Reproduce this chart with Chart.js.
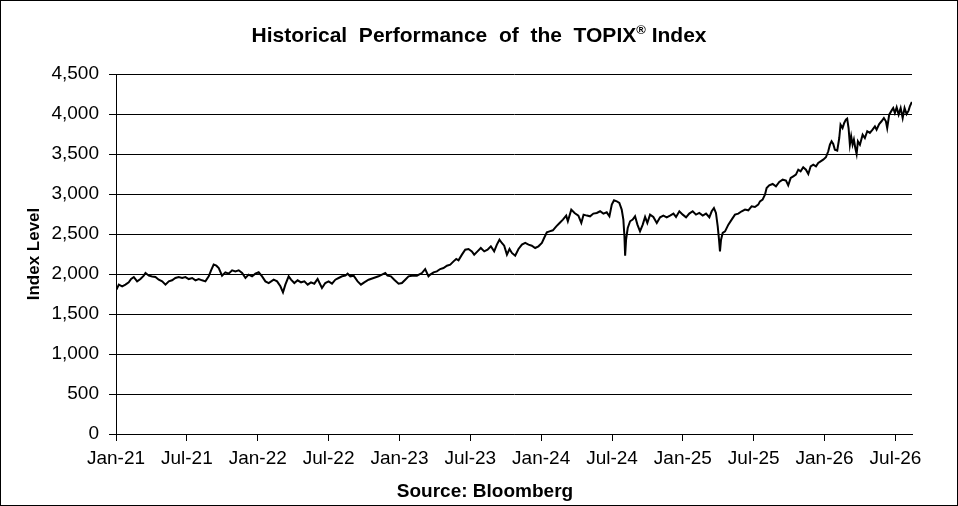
<!DOCTYPE html>
<html>
<head>
<meta charset="utf-8">
<script src="https://cdn.jsdelivr.net/npm/chart.js@4.4.1/dist/chart.umd.min.js"></script>
<style>
    body { margin: 0; background: #fff; }
    #wrap {
        position: relative;
        width: 958px;
        height: 506px;
        box-sizing: border-box;
        border: 1px solid #000;
        font-family: "Liberation Sans", Arial, sans-serif;
    }
    #wrap canvas { position: absolute; left: 0; top: 0; }
    .title {
        position: absolute;
        top: 23px;
        left: 0;
        width: 956px;
        text-align: center;
        font-size: 21px;
        line-height: 21px;
        font-weight: bold;
        white-space: pre;
        color: #000;
    }
    .title sup { font-size: 13px; line-height: 0; vertical-align: 8px; }
    .source {
        position: absolute;
        top: 480px;
        left: 484px;
        transform: translateX(-50%);
        font-size: 19px;
        line-height: 19px;
        font-weight: bold;
        white-space: nowrap;
        color: #000;
    }
</style>
</head>
<body>
<div id="wrap">
    <canvas id="topixChart" width="956" height="504"></canvas>
    <div class="title">Historical  Performance  of  the  TOPIX<sup>®</sup> Index</div>
    <div class="source">Source: Bloomberg</div>
</div>
<script>
// Months counted from Jan-21 (0 = start of Jan 2021)
const monthsFromJan21 = [
    0.04, 0.24, 0.52, 0.80, 1.08, 1.28, 1.51, 1.79, 2.07, 2.35, 2.50, 2.78, 3.06, 3.34, 3.62, 3.91,
    4.19, 4.47, 4.75, 5.03, 5.31, 5.60, 5.88, 6.16, 6.45, 6.73, 7.00, 7.29, 7.57, 7.85, 8.05, 8.27,
    8.50, 8.70, 8.98, 9.26, 9.54, 9.83, 10.11, 10.39, 10.68, 10.96, 11.23, 11.52, 11.80, 12.08, 12.37, 12.65,
    12.93, 13.35, 13.64, 13.92, 14.14, 14.34, 14.62, 14.82, 15.10, 15.38, 15.67, 15.95, 16.23, 16.51, 16.79, 17.07,
    17.44, 17.72, 18.00, 18.29, 18.57, 18.85, 19.14, 19.42, 19.61, 19.84, 20.12, 20.46, 20.74, 21.02, 21.39, 21.81,
    22.23, 22.52, 22.80, 22.99, 23.28, 23.56, 23.93, 24.21, 24.49, 24.77, 25.06, 25.48, 25.90, 26.18, 26.46, 26.61,
    26.89, 27.17, 27.45, 27.73, 28.02, 28.30, 28.58, 28.81, 29.00, 29.29, 29.57, 29.85, 30.13, 30.33, 30.61, 30.89,
    31.18, 31.46, 31.74, 32.02, 32.25, 32.47, 32.67, 32.87, 33.10, 33.32, 33.52, 33.80, 34.08, 34.37, 34.65, 34.93,
    35.21, 35.49, 35.77, 36.06, 36.25, 36.48, 36.71, 36.99, 37.28, 37.56, 37.84, 38.12, 38.26, 38.55, 38.83, 39.15,
    39.40, 39.59, 39.87, 40.14, 40.42, 40.71, 40.99, 41.27, 41.55, 41.78, 41.98, 42.17, 42.40, 42.62, 42.82, 42.96,
    43.05, 43.11, 43.19, 43.33, 43.53, 43.75, 43.95, 44.15, 44.37, 44.60, 44.80, 44.99, 45.22, 45.50, 45.79, 46.07,
    46.35, 46.63, 46.91, 47.20, 47.42, 47.70, 47.99, 48.27, 48.54, 48.83, 49.11, 49.39, 49.68, 49.96, 50.24, 50.44,
    50.63, 50.80, 50.95, 51.06, 51.14, 51.23, 51.37, 51.57, 51.85, 52.13, 52.41, 52.69, 52.98, 53.26, 53.54, 53.82,
    54.10, 54.38, 54.53, 54.75, 54.95, 55.09, 55.31, 55.60, 55.88, 56.16, 56.45, 56.73, 56.92, 57.13, 57.35, 57.57,
    57.77, 57.97, 58.19, 58.42, 58.62, 58.82, 59.04, 59.27, 59.46, 59.66, 59.88, 60.11, 60.31, 60.45, 60.59, 60.73,
    60.87, 61.07, 61.24, 61.35, 61.52, 61.66, 61.80, 61.91, 62.03, 62.14, 62.25, 62.37, 62.48, 62.60, 62.71, 62.82,
    62.99, 63.22, 63.41, 63.61, 63.83, 64.06, 64.26, 64.40, 64.62, 64.82, 65.02, 65.19, 65.30, 65.47, 65.67, 65.81,
    65.95, 66.10, 66.27, 66.44, 66.61, 66.77, 66.94, 67.11, 67.22, 67.39
];

// TOPIX index level
const indexLevels = [
    1804, 1867, 1846, 1867, 1896, 1937, 1962, 1908, 1937, 1979, 2012, 1979, 1970, 1962, 1929, 1908,
    1867, 1908, 1921, 1950, 1962, 1950, 1962, 1937, 1950, 1921, 1937, 1921, 1908, 1970, 2046, 2117,
    2104, 2075, 1979, 2021, 2004, 2046, 2033, 2046, 2012, 1950, 1992, 1970, 2004, 2021, 1970, 1908,
    1887, 1929, 1908, 1846, 1771, 1867, 1971, 1929, 1887, 1921, 1896, 1908, 1867, 1896, 1879, 1937,
    1825, 1887, 1908, 1879, 1929, 1950, 1971, 1979, 2004, 1971, 1979, 1908, 1867, 1896, 1929, 1950,
    1971, 1992, 2012, 1979, 1971, 1929, 1879, 1887, 1929, 1971, 1979, 1979, 2012, 2062, 1971, 1992,
    2021, 2033, 2062, 2075, 2104, 2117, 2158, 2188, 2171, 2242, 2304, 2313, 2283, 2242, 2283, 2325,
    2283, 2304, 2346, 2283, 2367, 2429, 2388, 2354, 2242, 2313, 2263, 2229, 2313, 2367, 2388, 2367,
    2354, 2325, 2346, 2388, 2450, 2521, 2533, 2546, 2596, 2638, 2680, 2730, 2659, 2805, 2763, 2730,
    2638, 2742, 2730, 2721, 2755, 2763, 2784, 2755, 2771, 2721, 2867, 2921, 2909, 2888, 2805, 2680,
    2471, 2229, 2429, 2575, 2659, 2680, 2721, 2617, 2533, 2617, 2713, 2638, 2742, 2713, 2638, 2709,
    2730, 2709, 2730, 2755, 2713, 2784, 2742, 2709, 2755, 2784, 2742, 2763, 2730, 2755, 2709, 2784,
    2825, 2763, 2596, 2429, 2283, 2429, 2513, 2533, 2617, 2680, 2742, 2755, 2784, 2805, 2796, 2846,
    2838, 2867, 2908, 2929, 2992, 3075, 3108, 3125, 3096, 3150, 3179, 3167, 3108, 3200, 3221, 3242,
    3304, 3283, 3334, 3304, 3250, 3346, 3367, 3346, 3388, 3408, 3429, 3459, 3534, 3617, 3659, 3625,
    3554, 3542, 3700, 3867, 3825, 3888, 3930, 3942, 3825, 3617, 3721, 3617, 3680, 3575, 3500, 3659,
    3617, 3742, 3700, 3784, 3763, 3805, 3846, 3805, 3875, 3909, 3950, 3909, 3825, 3992, 4042, 4075,
    4013, 4083, 3992, 4075, 3950, 4075, 4000, 4042, 4096, 4150
];

// x-axis ticks every six months
const tickMonths = [0, 6, 12, 18, 24, 30, 36, 42, 48, 54, 60, 66];
const tickLabels = ['Jan-21', 'Jul-21', 'Jan-22', 'Jul-22', 'Jan-23', 'Jul-23',
                    'Jan-24', 'Jul-24', 'Jan-25', 'Jul-25', 'Jan-26', 'Jul-26'];
const lastMonth = 67.4;

const fontFamily = '"Liberation Sans", Arial, sans-serif';

const ctx = document.getElementById('topixChart').getContext('2d');
new Chart(ctx, {
    type: 'line',
    data: {
        datasets: [{
            label: 'TOPIX',
            data: monthsFromJan21.map((m, i) => ({ x: m, y: indexLevels[i] })),
            borderColor: '#000',
            borderWidth: 2,
            pointRadius: 0,
            tension: 0,
            fill: false
        }]
    },
    options: {
        responsive: false,
        animation: false,
        layout: {
            padding: { top: 73, right: 45, bottom: 0, left: 0 }
        },
        plugins: {
            legend: { display: false },
            tooltip: { enabled: false }
        },
        scales: {
            x: {
                type: 'linear',
                min: 0,
                max: lastMonth,
                afterBuildTicks: (scale) => {
                    scale.ticks = tickMonths.map(v => ({ value: v }));
                },
                afterFit: (scale) => { scale.height = 71; },
                ticks: {
                    autoSkip: false,
                    maxRotation: 0,
                    color: '#000',
                    padding: 6,
                    font: { family: fontFamily, size: 19 },
                    callback: (value) => tickLabels[tickMonths.indexOf(value)]
                },
                grid: {
                    drawOnChartArea: false,
                    drawTicks: true,
                    tickLength: 7,
                    color: '#000'
                },
                border: { color: '#000', width: 1 }
            },
            y: {
                min: 0,
                max: 4500,
                afterFit: (scale) => { scale.width = 115; },
                ticks: {
                    stepSize: 500,
                    color: '#000',
                    padding: 10,
                    font: { family: fontFamily, size: 19 },
                    callback: (value) => value.toLocaleString('en-US')
                },
                grid: {
                    color: '#000',
                    lineWidth: 1,
                    tickLength: 7
                },
                border: { color: '#000', width: 1 },
                title: {
                    display: true,
                    text: 'Index Level',
                    color: '#000',
                    font: { family: fontFamily, size: 17, weight: 'bold' },
                    padding: { top: 23, bottom: 0 }
                }
            }
        }
    }
});
</script>
</body>
</html>
